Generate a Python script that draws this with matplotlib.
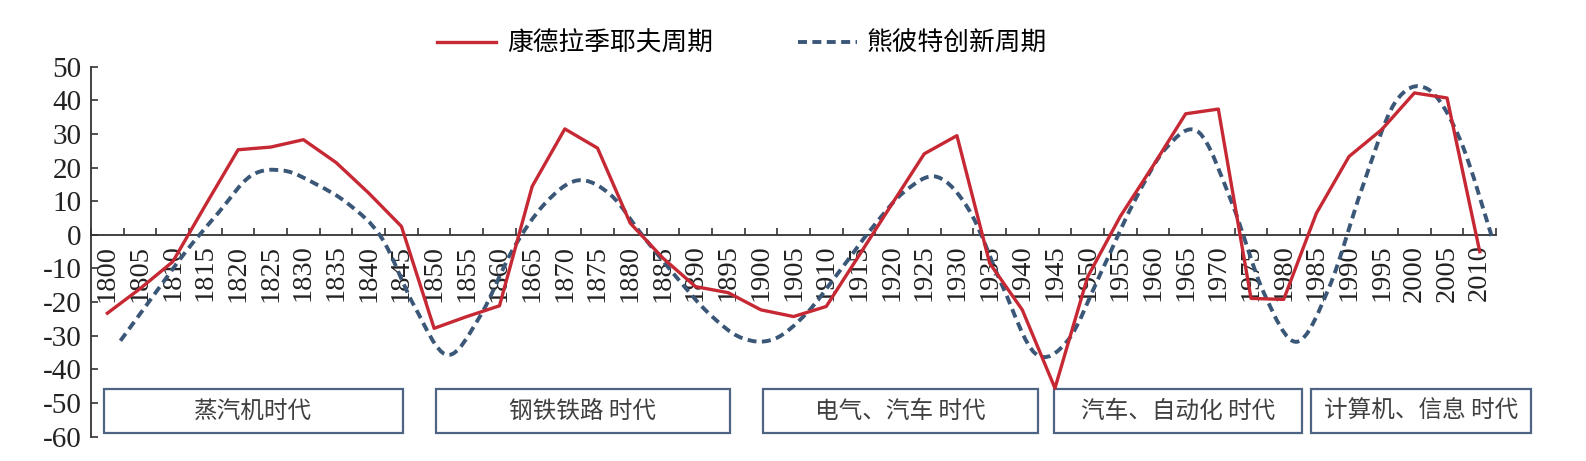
import numpy as np
import matplotlib.pyplot as plt
from matplotlib.path import Path
from matplotlib.patches import PathPatch, Rectangle
from matplotlib.lines import Line2D

# category axis: every 5 years
years = list(range(1800, 2011, 5))

# Kondratiev cycle (solid red)
kondratiev = [-23.3, -16.0, -8.0, 8.8, 25.3, 26.1, 28.3, 21.5, 12.4, 2.5,
              -27.8, -24.3, -21.1, 14.4, 31.5, 25.8, 3.5, -6.9, -15.4, -17.2,
              -22.3, -24.3, -21.3, -6.2, 9.0, 24.1, 29.5, -8.4, -22.3, -45.6,
              -12.5, 5.5, 20.5, 36.0, 37.4, -18.9, -19.2, 6.4, 23.3, 31.3,
              42.2, 40.7, -5.0]

# Schumpeter innovation cycle (dashed, smoothed), sampled a little later
schumpeter_years = list(range(1802, 2013, 5))
schumpeter = [-31.5, -18.2, -5.0, 6.6, 17.6, 19.1, 15.0, 9.0, -1.0, -21.3,
              -35.7, -24.3, -4.5, 9.4, 16.2, 11.9, -0.5, -12.4, -23.3, -30.6,
              -31.0, -23.3, -10.9, 2.0, 12.9, 17.2, 6.9, -15.4, -35.3, -31.3,
              -11.4, 9.4, 25.8, 30.5, 9.9, -17.4, -31.8, -15.4, 13.9, 39.2,
              43.4, 28.3, -1.5]

series_names = ["康德拉季耶夫周期", "熊彼特创新周期"]

eras = ["蒸汽机时代", "钢铁铁路 时代", "电气、汽车 时代", "汽车、自动化 时代", "计算机、信息 时代"]
# box spans in category units
era_spans = [(-0.1, 9.04), (10.06, 19.04), (20.06, 28.48), (28.98, 36.56), (36.84, 43.56)]

y_ticks = [-60, -50, -40, -30, -20, -10, 0, 10, 20, 30, 40, 50]

RED = "#c62834"
BLUE = "#3b5778"
CJK = ["Noto Sans CJK SC", "DejaVu Sans"]
SERIF = "Liberation Serif"
DASH = (0, (2.3, 1.4))

fig = plt.figure(figsize=(15.86, 4.61), dpi=100)
ax = fig.add_axes([0.0574, 0.0529, 0.8859, 0.8024])

xr = np.arange(len(years))
ax.plot(xr, kondratiev, color=RED, lw=2.4, zorder=4)


def smooth_path(x, y):
    # catmull-rom through the points, as cubic bezier segments
    pts = np.column_stack([x, y])
    ext = np.vstack([pts[0], pts, pts[-1]])
    verts = [tuple(pts[0])]
    codes = [Path.MOVETO]
    for i in range(len(pts) - 1):
        p0, p1, p2, p3 = ext[i], ext[i + 1], ext[i + 2], ext[i + 3]
        c1 = p1 + (p2 - p0) / 6
        c2 = p2 - (p3 - p1) / 6
        verts += [tuple(c1), tuple(c2), tuple(p2)]
        codes += [Path.CURVE4] * 3
    return Path(verts, codes)


bx = (np.array(schumpeter_years) - 1800) / 5
by = np.array(schumpeter)
ax.add_patch(PathPatch(smooth_path(bx, by), fill=False, edgecolor=BLUE,
                       lw=2.8, linestyle=DASH, capstyle="butt", zorder=3))

# era boxes
for name, (x0, x1) in zip(eras, era_spans):
    ax.add_patch(Rectangle((x0, -58.9), x1 - x0, 12.95, facecolor="white",
                           edgecolor="#4d6482", lw=1.6, zorder=2, clip_on=False))
    ax.text((x0 + x1) / 2, -52.4, name, ha="center", va="center",
            fontsize=17, color="#404040", family=CJK, zorder=5, clip_on=False)

ax.set_xlim(-0.5, 42.5)
ax.set_ylim(-60, 50)

for s in ["top", "right"]:
    ax.spines[s].set_visible(False)
ax.spines["bottom"].set_position(("data", 0))
for s in ["bottom", "left"]:
    ax.spines[s].set_color("#333333")
    ax.spines[s].set_linewidth(1.3)

# tick marks between categories, labels at category centres
ax.set_xticks(np.arange(-0.5, len(years), 1))
ax.set_xticklabels([])
ax.set_xticks(xr, minor=True)
ax.set_xticklabels([str(y) for y in years], minor=True, rotation=90,
                   fontsize=20.5, family=SERIF, color="#222222")
ax.tick_params(axis="x", which="major", direction="in", length=5, width=1.2, color="#333333")
ax.tick_params(axis="x", which="minor", length=0, pad=7)

ax.set_yticks(y_ticks)
ax.set_yticklabels([str(v) for v in y_ticks], fontsize=21, family=SERIF, color="#222222")
ax.tick_params(axis="y", direction="in", length=5, width=1.2, color="#333333", pad=7)

handles = [Line2D([], [], color=RED, lw=2.4),
           Line2D([], [], color=BLUE, lw=2.8, linestyle=DASH)]
fig.legend(handles, series_names, loc="center", bbox_to_anchor=(0.468, 0.9056),
           ncol=2, frameon=False, prop={"family": CJK, "size": 18.5},
           handlelength=2.3, columnspacing=3.3, handletextpad=0.4)

fig.savefig("out.png", dpi=100)
